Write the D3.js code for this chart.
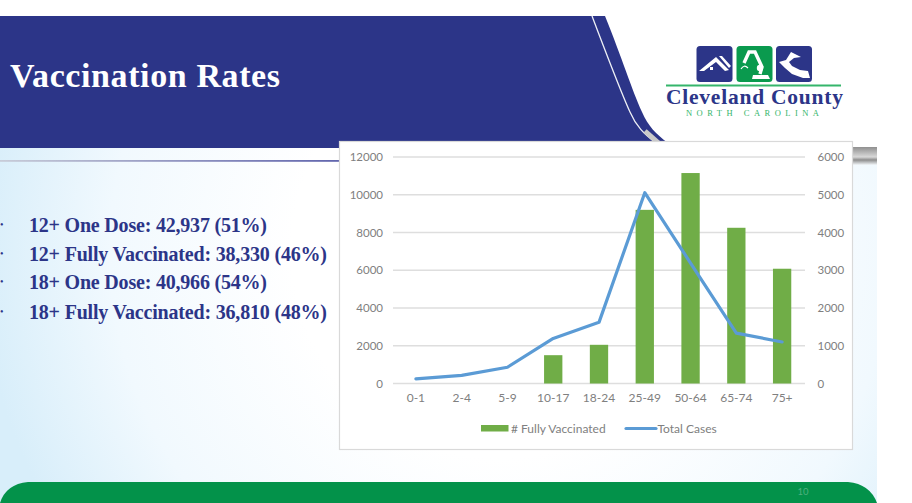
<!DOCTYPE html>
<html>
<head>
<meta charset="utf-8">
<script src="https://cdn.jsdelivr.net/npm/d3@7"></script>
<style>
  html, body { margin: 0; padding: 0; background: #fff; overflow: hidden; }
  svg { display: block; }
  .axis path, .axis line { display: none; }
  .axis text { font-family: Lato, sans-serif; font-size: 11.5px; fill: #808080; }
  .axis.cats text { font-size: 12px; }
  .legend text { font-family: Lato, sans-serif; font-size: 12px; fill: #808080; }
  .serif { font-family: "Liberation Serif", serif; font-weight: bold; }
</style>
</head>
<body>
<svg width="912" height="503"></svg>
<script>
// values
var ageGroups = ["0-1", "2-4", "5-9", "10-17", "18-24", "25-49", "50-64", "65-74", "75+"]
var fullyVaccinated = [0, 0, 0, 1500, 2050, 9200, 11150, 8250, 6080]
var totalCases = [125, 215, 430, 1195, 1620, 5055, 3190, 1335, 1100]
var leftTicks = [0, 2000, 4000, 6000, 8000, 10000, 12000]
var rightTicks = [0, 1000, 2000, 3000, 4000, 5000, 6000]
var bulletLines = [
  "12+ One Dose: 42,937 (51%)",
  "12+ Fully Vaccinated: 38,330 (46%)",
  "18+ One Dose: 40,966 (54%)",
  "18+ Fully Vaccinated: 36,810 (48%)"
]
var bulletBaselines = [232, 261, 289, 319]
var bulletWidths = [238, 298, 238, 298]

var navy = "#2c3588", green = "#03924a"
var svg = d3.select("svg")
var defs = svg.append("defs")

// slide background
var bg = defs.append("radialGradient").attr("id", "slideBg")
  .attr("gradientUnits", "userSpaceOnUse")
  .attr("cx", 500).attr("cy", 250).attr("r", 520)
bg.append("stop").attr("offset", "0.4").attr("stop-color", "#ffffff")
bg.append("stop").attr("offset", "0.75").attr("stop-color", "#f1f9fe")
bg.append("stop").attr("offset", "1").attr("stop-color", "#d8eefa")

var rule = defs.append("linearGradient").attr("id", "headRule")
rule.append("stop").attr("offset", "0").attr("stop-color", "#c8ccd8")
rule.append("stop").attr("offset", "1").attr("stop-color", "#6165ad")

var stripe = defs.append("linearGradient").attr("id", "sideStripe")
  .attr("x1", 0).attr("x2", 0).attr("y1", 0).attr("y2", 1)
stripe.append("stop").attr("offset", "0").attr("stop-color", "#8f8f8f")
stripe.append("stop").attr("offset", "0.55").attr("stop-color", "#d8d8d8")
stripe.append("stop").attr("offset", "0.72").attr("stop-color", "#8d8d8d")
stripe.append("stop").attr("offset", "1").attr("stop-color", "#f4f8fb")

svg.append("rect").attr("x", 0).attr("y", 16).attr("width", 877).attr("height", 487).attr("fill", "url(#slideBg)")

// white top-right of the slide, behind logo
svg.append("rect").attr("x", 590).attr("y", 16).attr("width", 287).attr("height", 132).attr("fill", "#fff")

// header band
svg.append("path")
  .attr("d", "M0,16 L605,16 C622,58 632,90 642,112 C648,126 656,134 668,143 L668,148 L0,148 Z")
  .attr("fill", navy)
svg.append("path")
  .attr("d", "M592,16 C605,50 620,90 630,112 C636,126 644,134 656,143")
  .attr("fill", "none").attr("stroke", "#eef0f6").attr("stroke-width", 1.3)
svg.append("path")
  .attr("d", "M645,131 L662,146")
  .attr("fill", "none").attr("stroke", "#c9c9c9").attr("stroke-width", 5)

svg.append("text").attr("class", "serif")
  .attr("x", 10).attr("y", 87)
  .attr("font-size", 34).attr("fill", "#fff")
  .attr("textLength", 270).attr("lengthAdjust", "spacing")
  .text("Vaccination Rates")

svg.append("rect").attr("x", 0).attr("y", 160).attr("width", 340).attr("height", 1.8).attr("fill", "url(#headRule)")
svg.append("rect").attr("x", 852).attr("y", 147).attr("width", 25).attr("height", 18).attr("fill", "url(#sideStripe)")

// logo
var tileX = [696.5, 736.5, 776]
var tileFill = [navy, "#0a9a4e", navy]
var logo = svg.append("g")
logo.selectAll("rect.tile").data(tileX).enter().append("rect")
  .attr("class", "tile")
  .attr("x", function(d) { return d })
  .attr("y", 46).attr("width", 36).attr("height", 36).attr("rx", 3.5)
  .attr("fill", function(d, i) { return tileFill[i] })
// house
logo.append("path").attr("fill", "#fff")
  .attr("d", "M699,71 L716,57 L729,70 L725,71 L716,62 L704,71 Z M719,56 L722,56 L731,66 L729,68 Z")
logo.append("rect").attr("x", 710).attr("y", 67).attr("width", 3).attr("height", 3).attr("fill", "#fff")
// excavator
logo.append("path").attr("fill", "none").attr("stroke", "#fff").attr("stroke-width", 3.4)
  .attr("d", "M744,63 L749,52 L755,52 L762,67 L760,74")
logo.append("path").attr("fill", "#fff").attr("d", "M753,75 L768,75 L770,79 L752,79 Z")
logo.append("circle").attr("cx", 760).attr("cy", 68).attr("r", 3.2).attr("fill", "#fff")
logo.append("path").attr("fill", "none").attr("stroke", "#fff").attr("stroke-width", 1.2)
  .attr("d", "M741,69 Q744,64 748,68")
// lake
logo.append("path").attr("fill", "#fff")
  .attr("d", "M779,62 L786,60 L791,52 L801,57 L794,58 L789,62 L792,66 L800,70 L808,71 L810,78 L803,78 L792,74 L785,68 Z")

logo.append("rect").attr("x", 666).attr("y", 84.5).attr("width", 175).attr("height", 2).attr("fill", "#35b56b")
logo.append("text").attr("class", "serif")
  .attr("x", 666).attr("y", 104)
  .attr("font-size", 21.5).attr("fill", navy)
  .attr("textLength", 177).attr("lengthAdjust", "spacing")
  .text("Cleveland County")
logo.append("text")
  .attr("x", 686).attr("y", 116)
  .attr("font-family", "Liberation Serif, serif").attr("font-size", 8.5).attr("fill", "#35b56b")
  .attr("textLength", 133).attr("lengthAdjust", "spacing")
  .text("NORTH CAROLINA")

// bullets
var bullets = svg.append("g")
bullets.selectAll("text.line").data(bulletLines).enter().append("text")
  .attr("class", "line serif")
  .attr("x", 29)
  .attr("y", function(d, i) { return bulletBaselines[i] })
  .attr("font-size", 20).attr("fill", navy)
  .attr("textLength", function(d, i) { return bulletWidths[i] })
  .attr("lengthAdjust", "spacing")
  .text(function(d) { return d })
bullets.selectAll("text.dot").data(bulletLines).enter().append("text")
  .attr("class", "dot")
  .attr("x", 0)
  .attr("y", function(d, i) { return bulletBaselines[i] - 4 })
  .attr("font-family", "Liberation Serif, serif").attr("font-size", 10).attr("fill", navy)
  .text("\u2022")

// footer
svg.append("path")
  .attr("d", "M0,503 Q6,484 28,482 L848,482 Q870,484 877,503 Z")
  .attr("fill", green)
svg.append("text").attr("x", 803).attr("y", 495).attr("text-anchor", "middle")
  .attr("font-family", "Lato, sans-serif").attr("font-size", 9.5).attr("fill", "#4fb07f")
  .text("10")

// chart card
svg.append("rect").attr("x", 339.5).attr("y", 141.5).attr("width", 513).attr("height", 308)
  .attr("fill", "#fff").attr("stroke", "#d9d9d9").attr("stroke-width", 1.2)

var margin = { left: 393, right: 805, top: 157, bottom: 383.5 }

var x = d3.scaleBand()
  .domain(ageGroups)
  .range([margin.left, margin.right])
  .paddingInner(0.6)
  .paddingOuter(0.3)
var xCenter = function(d) { return x(d) + x.bandwidth() / 2 }

var y = d3.scaleLinear().domain([0, 12000]).range([margin.bottom, margin.top])
var y2 = d3.scaleLinear().domain([0, 6000]).range([margin.bottom, margin.top])

var chart = svg.append("g")

chart.selectAll("line.grid").data(leftTicks).enter().append("line")
  .attr("class", "grid")
  .attr("x1", margin.left).attr("x2", margin.right)
  .attr("y1", function(d) { return y(d) }).attr("y2", function(d) { return y(d) })
  .attr("stroke", "#dedede").attr("stroke-width", 1.3)

chart.selectAll("rect.bar").data(ageGroups).enter().append("rect")
  .attr("class", "bar")
  .attr("x", function(d) { return x(d) })
  .attr("width", x.bandwidth())
  .attr("y", function(d, i) { return y(fullyVaccinated[i]) })
  .attr("height", function(d, i) { return y(0) - y(fullyVaccinated[i]) })
  .attr("fill", "#70ad47")

var line = d3.line()
  .x(function(d) { return xCenter(d) })
  .y(function(d, i) { return y2(totalCases[i]) })

chart.append("path").datum(ageGroups)
  .attr("d", line)
  .attr("fill", "none")
  .attr("stroke", "#5b9bd5").attr("stroke-width", 3.2)
  .attr("stroke-linejoin", "round").attr("stroke-linecap", "round")

chart.append("g").attr("class", "axis")
  .attr("transform", "translate(" + (margin.left - 10) + ",0)")
  .call(d3.axisLeft(y).tickValues(leftTicks).tickSize(0).tickPadding(0).tickFormat(d3.format("d")))

chart.append("g").attr("class", "axis")
  .attr("transform", "translate(" + (margin.right + 12.5) + ",0)")
  .call(d3.axisRight(y2).tickValues(rightTicks).tickSize(0).tickPadding(0).tickFormat(d3.format("d")))

chart.append("g").attr("class", "axis cats")
  .attr("transform", "translate(0," + (margin.bottom + 10) + ")")
  .call(d3.axisBottom(x).tickSize(0).tickPadding(0))

// legend
var legend = svg.append("g").attr("class", "legend")
legend.append("rect").attr("x", 481).attr("y", 425).attr("width", 27.5).attr("height", 6.5).attr("fill", "#70ad47")
legend.append("text").attr("x", 511).attr("y", 433).text("# Fully Vaccinated")
legend.append("line").attr("x1", 626).attr("x2", 656).attr("y1", 428.5).attr("y2", 428.5)
  .attr("stroke", "#5b9bd5").attr("stroke-width", 3.2).attr("stroke-linecap", "round")
legend.append("text").attr("x", 657.5).attr("y", 433).text("Total Cases")
</script>
</body>
</html>
